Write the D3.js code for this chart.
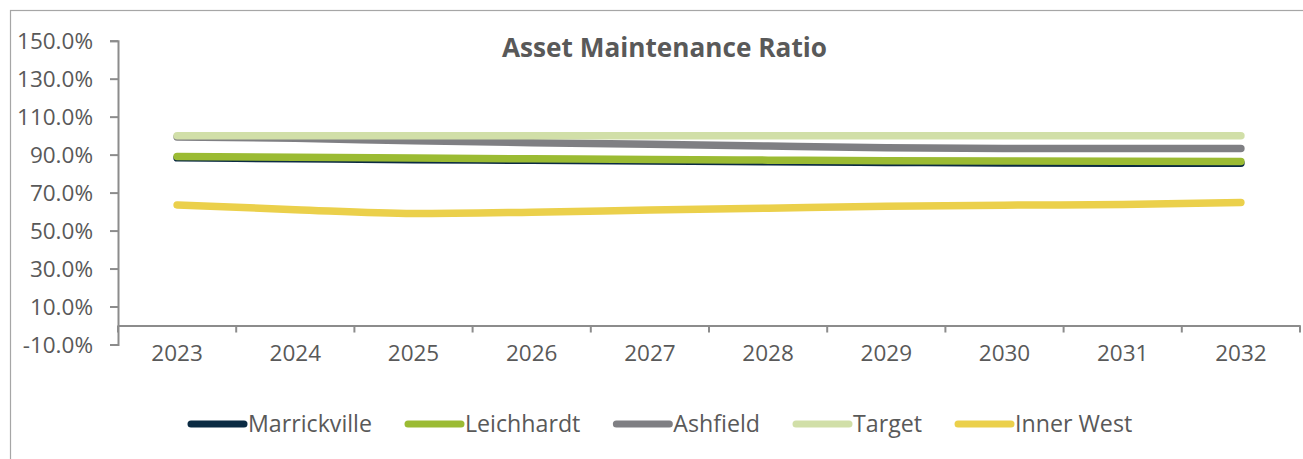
<!DOCTYPE html>
<html><head><meta charset="utf-8">
<script src="https://cdn.jsdelivr.net/npm/d3@7"></script>
<style>
html,body{margin:0;padding:0;background:#fff;}
svg{display:block;}
text{font-family:"Open Sans",sans-serif;fill:#595959;}
</style></head>
<body>
<svg id="chart" width="1303" height="459"></svg>
<script>
const title = "Asset Maintenance Ratio";
const years = ["2023","2024","2025","2026","2027","2028","2029","2030","2031","2032"];
const yTicks = [-10,10,30,50,70,90,110,130,150];
const seriesNames = ["Marrickville","Leichhardt","Ashfield","Target","Inner West"];
const marrickville = [88.3,87.8,87.3,87.0,86.6,86.2,85.9,85.6,85.5,85.5];
const leichhardt   = [89.0,88.6,88.2,87.8,87.4,87.1,86.8,86.6,86.5,86.4];
const ashfield     = [99.3,98.6,97.3,96.3,95.5,94.5,93.6,93.2,93.2,93.2];
const target       = [100,100,100,100,100,100,100,100,100,100];
const innerWest    = [63.5,61.0,59.0,59.7,60.8,61.8,62.8,63.4,63.7,64.8];
const colors = ["#0b2b43","#9bbb33","#7f7f83","#d1dfa8","#ebd04b"];

const seriesValues = [marrickville, leichhardt, ashfield, target, innerWest];
const series = seriesNames.map((n,i)=>({name:n, values:seriesValues[i], color:colors[i]}));

const svg = d3.select("#chart");

// frame
svg.append("rect").attr("x",10.5).attr("y",10.5).attr("width",1400).attr("height",600)
  .attr("fill","none").attr("stroke","#a6a6a6").attr("stroke-width",1.2);

const x = d3.scaleBand().domain(years).range([118,1300]);
const y = d3.scaleLinear().domain([-10,150]).range([344.5,40.7]);

// y axis
const yAxis = d3.axisLeft(y).tickValues(yTicks).tickSize(8).tickPadding(17)
  .tickFormat(d=>d.toFixed(1)+"%");
const gy = svg.append("g").attr("transform","translate(118,0)").call(yAxis);
gy.select(".domain").attr("stroke","#8c8c8c").attr("stroke-width",2);
gy.selectAll(".tick line").attr("stroke","#8c8c8c").attr("stroke-width",2);
gy.selectAll(".tick text").attr("font-size",22.5).attr("fill","#595959")
  .attr("font-family","'Open Sans',sans-serif").attr("dy","0.36em");

// x axis at 0
const xAxis = d3.axisBottom(x).tickSize(0).tickPadding(20);
const gx = svg.append("g").attr("transform",`translate(0,${y(0)})`).call(xAxis);
gx.select(".domain").attr("stroke","#8c8c8c").attr("stroke-width",2);
gx.selectAll(".tick text").attr("font-size",22.5).attr("fill","#595959")
  .attr("font-family","'Open Sans',sans-serif");
// category boundary ticks
const bounds = years.map(d=>x(d)).concat([x.range()[1]]);
gx.selectAll(".bt").data(bounds).enter().append("line")
  .attr("x1",d=>d).attr("x2",d=>d).attr("y1",0).attr("y2",7)
  .attr("stroke","#8c8c8c").attr("stroke-width",2);

// lines
const line = d3.line()
  .x((d,i)=>x(years[i])+x.bandwidth()/2)
  .y(d=>y(d))
  .curve(d3.curveMonotoneX);
svg.append("g").selectAll("path").data(series).enter().append("path")
  .attr("d",d=>line(d.values))
  .attr("fill","none").attr("stroke",d=>d.color).attr("stroke-width",7.5)
  .attr("stroke-linecap","round").attr("stroke-linejoin","round");

// title
svg.append("text").attr("x",664.5).attr("y",57).attr("text-anchor","middle")
  .attr("font-size",26.2).attr("font-weight","bold").attr("fill","#404040").text(title);

// legend
const lg = svg.append("g");
let lx = 188;
const ly = 424;
series.forEach(s=>{
  lg.append("line").attr("x1",lx+3).attr("x2",lx+56).attr("y1",ly).attr("y2",ly)
    .attr("stroke",s.color).attr("stroke-width",7).attr("stroke-linecap","round");
  const t = lg.append("text").attr("x",lx+60).attr("y",ly).attr("dy","0.36em")
    .attr("font-size",23.2).attr("fill","#595959").text(s.name);
  const w = t.node().getComputedTextLength();
  lx = lx + 60 + w + 33;
});
</script>
</body></html>
